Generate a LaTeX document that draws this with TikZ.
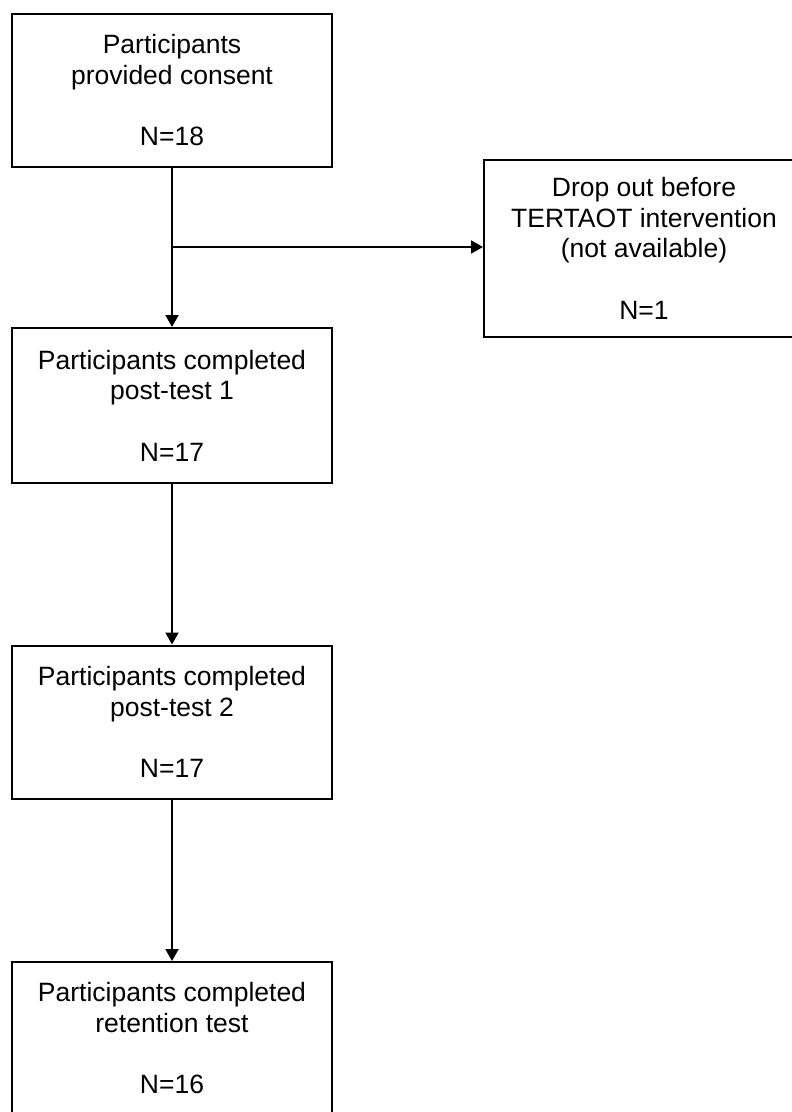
\documentclass[tikz,border=0pt]{standalone}
\usepackage{fontspec}
\setmainfont{Liberation Sans}
\usetikzlibrary{arrows.meta}
\begin{document}
\begin{tikzpicture}[x=1bp,y=-1bp,
  box/.style={draw=black, line width=2bp, fill=white, minimum width=320bp, minimum height=153bp,
    inner sep=0pt, align=center, font=\fontsize{26.5bp}{30.5bp}\selectfont},
  arr/.style={draw=black, line width=2bp, -{Triangle[length=12bp,width=13bp]}}]
\useasboundingbox (0,0) rectangle (792,1112);
\clip (0,0) rectangle (792,1112);
\node[box] (b1) at (172,90.5) {Participants\\provided consent\\[31bp]N=18};
\node[box, minimum height=177bp] (b2) at (644,248.5) {Drop out before\\TERTAOT intervention\\(not available)\\[31bp]N=1};
\node[box, minimum height=155bp] (b3) at (172,405.5) {Participants completed\\post-test 1\\[31bp]N=17};
\node[box] (b4) at (172,722) {Participants completed\\post-test 2\\[31bp]N=17};
\node[box] (b5) at (172,1038.5) {Participants completed\\retention test\\[31bp]N=16};
\coordinate (j) at (b1.south |- 0,247);
\draw[arr] (b1) -- (b3);
\draw[arr] (j) -- (b2.west |- j);
\draw[arr] (b3) -- (b4);
\draw[arr] (b4) -- (b5);
\end{tikzpicture}
\end{document}
